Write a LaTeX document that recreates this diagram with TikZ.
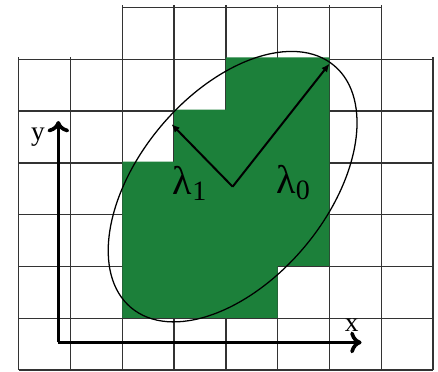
\documentclass[tikz,border=0pt]{standalone}
\usepackage{fontspec}
\setmainfont{Liberation Serif}
\usetikzlibrary{arrows.meta}
\definecolor{regiongreen}{RGB}{28,128,58}
\begin{document}
\begin{tikzpicture}[x=1cm,y=1.006cm,
        gridline/.style={black!80,line width=0.75pt},
        axis/.style={line width=1.8pt,-{Computer Modern Rightarrow[length=2.2mm,width=4.2mm,line width=2pt]}},
        axislabel/.style={inner sep=0pt,font=\fontsize{15}{17}\selectfont},
        lambdalabel/.style={inner sep=0pt,font=\fontsize{22}{26}\selectfont}]
        \useasboundingbox (-0.361,-0.019) rectangle (8.095,7.102);
        % grid of pixels
        \draw[gridline] (0,0) grid (8,6);
        \draw[gridline] (2,6) grid (7,7);
        % covered pixels
        \fill[regiongreen] (2,1) -- (5,1) -- (5,2) -- (6,2) -- (6,6) -- (4,6)
        -- (4,5) -- (3,5) -- (3,4) -- (2,4) -- cycle;
        % ellipse and its axes
        \coordinate (c) at (4.13,3.52);
        \coordinate (l0) at (6.0,5.88);
        \coordinate (l1) at (2.95,4.72);
        \draw[line width=0.7pt] (c) ellipse[x radius=3.05,y radius=1.8,rotate=50];
        \draw[line width=1.1pt,-{Latex[length=1.6mm,width=1.4mm]}] (c) -- (l0);
        \draw[line width=1.1pt,-{Latex[length=1.6mm,width=1.4mm]}] (c) -- (l1);
        \node[lambdalabel] (lab1) at (3.31,3.58) {λ\textsubscript{1}};
        \node[lambdalabel] (lab0) at (5.31,3.60) {λ\textsubscript{0}};
        % coordinate axes
        \coordinate (o) at (0.765,0.53);
        \coordinate (xend) at (6.62,0.53);
        \coordinate (yend) at (0.765,4.78);
        \draw[axis] (o) -- (xend);
        \draw[axis] (o) -- (yend);
        \node[axislabel] (ylab) at (0.37,4.47) {y};
        \node[axislabel] (xlab) at (6.43,0.86) {x};
\end{tikzpicture}
\end{document}
